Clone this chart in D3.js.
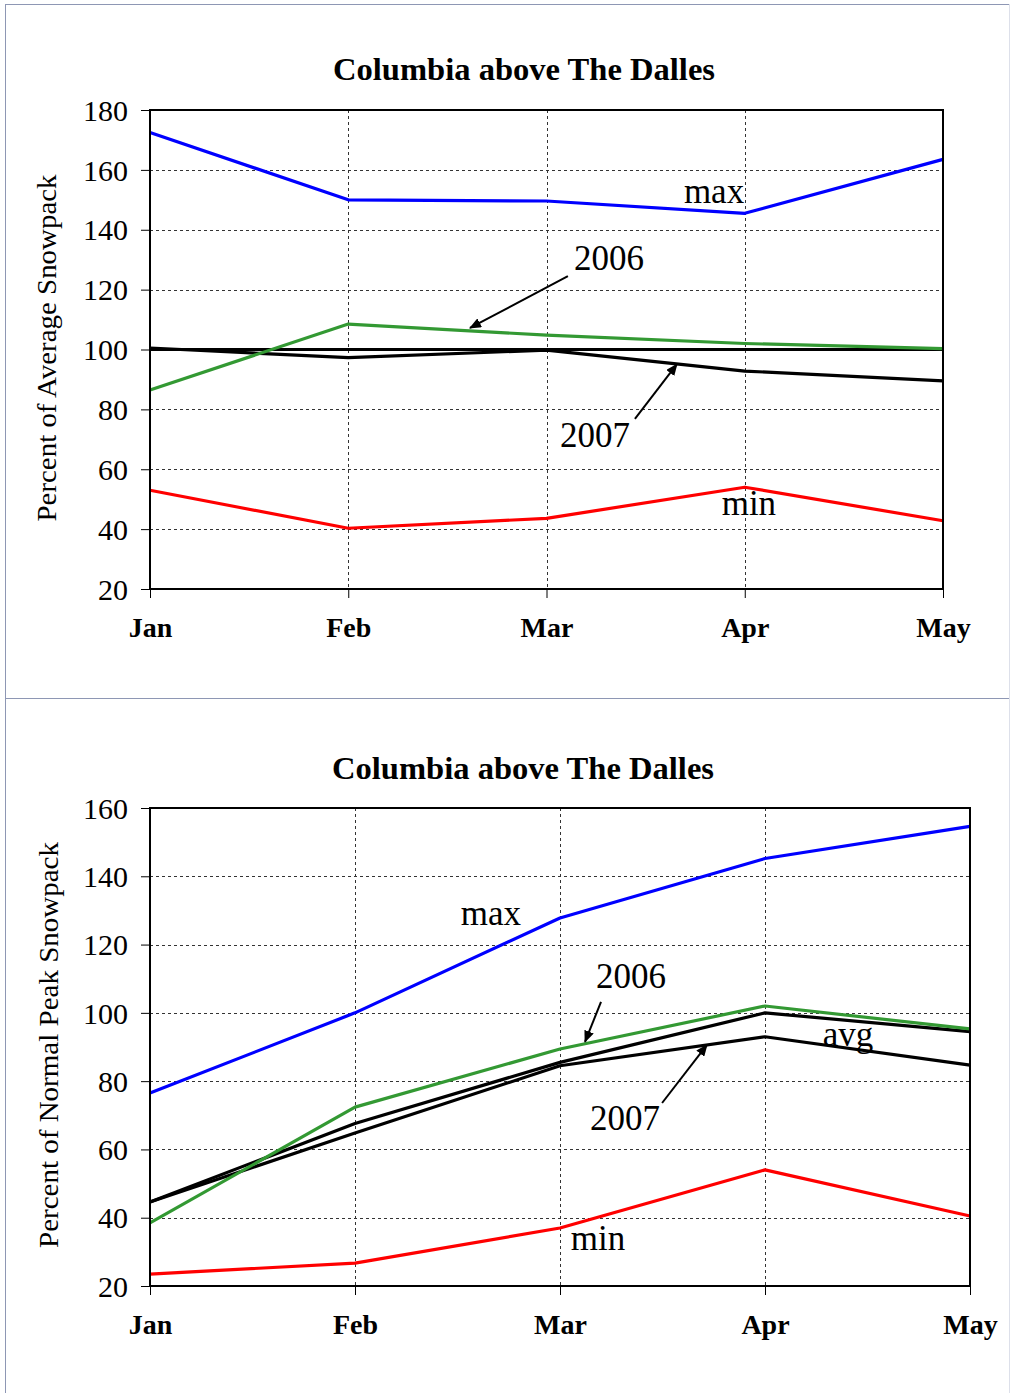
<!DOCTYPE html>
<html><head><meta charset="utf-8">
<script src="https://cdn.jsdelivr.net/npm/d3@7"></script>
<style>body{margin:0;background:#fff}svg{display:block}</style>
</head><body>
<script>
// ---------- DATA ----------
const months = ["Jan","Feb","Mar","Apr","May"];
const chartTitle = "Columbia above The Dalles";

// Top chart: percent of average snowpack
const topTicks = [20,40,60,80,100,120,140,160,180];
const topMax  = [172.5, 150.0, 149.6, 145.5, 163.5];
const topMin  = [53.0, 40.3, 43.6, 54.0, 42.8];
const top2006 = [86.5, 108.5, 104.8, 102.0, 100.3];
const top2007 = [100.5, 97.3, 99.8, 92.8, 89.5];
const topAvg  = [100, 100, 100, 100, 100];
const topYLabel = "Percent of Average Snowpack";
const topLabels = [
  {text:"max",  i:2.845, v:148.9},
  {text:"2006", i:2.315, v:126.5},
  {text:"2007", i:2.245, v:67.4},
  {text:"min",  i:3.021, v:44.7}
];
const topArrows = [
  {i0:2.108, v0:124.5, i1:1.614, v1:107.2},
  {i0:2.446, v0:76.8,  i1:2.658, v1:95.1}
];

// Bottom chart: percent of normal peak snowpack
const botTicks = [20,40,60,80,100,120,140,160];
const botMax  = [76.5, 100.0, 127.8, 145.2, 154.6];
const botMin  = [23.5, 26.7, 37.0, 54.0, 40.5];
const bot2006 = [38.5, 72.4, 89.4, 102.0, 95.3];
const botAvg  = [44.6, 67.6, 85.5, 100.0, 94.5];
const bot2007 = [44.6, 64.8, 84.5, 93.0, 84.7];
const botYLabel = "Percent of Normal Peak Snowpack";
const botLabels = [
  {text:"max",  i:1.663, v:125.7},
  {text:"2006", i:2.346, v:107.3},
  {text:"avg",  i:3.405, v:90.3},
  {text:"2007", i:2.317, v:65.7},
  {text:"min",  i:2.185, v:30.5}
];
const botArrows = [
  {i0:2.200, v0:103.2, i1:2.122, v1:91.5},
  {i0:2.498, v0:73.6,  i1:2.717, v1:90.6}
];

// ---------- DRAW ----------
const W = 1010, H = 1393;
const FONT = "'Liberation Serif','Times New Roman',serif";
const svg = d3.select("body").append("svg").attr("width", W).attr("height", H);

// outer frame
const frameColor = "#8e97b4";
svg.append("line").attr("x1",5).attr("x2",W).attr("y1",4.5).attr("y2",4.5).attr("stroke",frameColor);
svg.append("line").attr("x1",5.5).attr("x2",5.5).attr("y1",4).attr("y2",H).attr("stroke",frameColor);
svg.append("line").attr("x1",5).attr("x2",W).attr("y1",698.5).attr("y2",698.5).attr("stroke",frameColor);
svg.append("line").attr("x1",1009.5).attr("x2",1009.5).attr("y1",4).attr("y2",H).attr("stroke","#dde0ea");

svg.append("defs").append("marker")
  .attr("id","ah").attr("viewBox","0 0 12 10").attr("refX",11).attr("refY",5)
  .attr("markerWidth",12).attr("markerHeight",10).attr("markerUnits","userSpaceOnUse")
  .attr("orient","auto")
  .append("path").attr("d","M0,0 L12,5 L0,10 Z").attr("fill","#000");

function drawChart(cfg) {
  const g = svg.append("g");
  const x = d3.scaleLinear().domain([0, months.length-1]).range([cfg.left, cfg.right]);
  const y = d3.scaleLinear().domain(cfg.domain).range([cfg.bottom, cfg.top]);

  // grid
  g.append("g").selectAll("line").data(cfg.ticks.slice(1,-1)).join("line")
    .attr("x1",cfg.left).attr("x2",cfg.right)
    .attr("y1",d=>Math.round(y(d))+0.5).attr("y2",d=>Math.round(y(d))+0.5)
    .attr("stroke","#333").attr("stroke-width",1).attr("stroke-dasharray","3,3");
  g.append("g").selectAll("line").data(months.slice(1,-1)).join("line")
    .attr("x1",(d,i)=>Math.round(x(i+1))+0.5).attr("x2",(d,i)=>Math.round(x(i+1))+0.5)
    .attr("y1",cfg.top).attr("y2",cfg.bottom)
    .attr("stroke","#333").attr("stroke-width",1).attr("stroke-dasharray","3,3");

  // axes
  const yAxis = d3.axisLeft(y).tickValues(cfg.ticks).tickSize(9).tickPadding(13).tickFormat(d3.format("d"));
  const ya = g.append("g").attr("transform",`translate(${cfg.left},0)`).call(yAxis);
  ya.select(".domain").remove();
  ya.selectAll("line").attr("stroke","#000");
  ya.selectAll("text").attr("font-family",FONT).attr("font-size",30).attr("fill","#000").attr("dy","0.34em");

  const xAxis = d3.axisBottom(x).tickValues(d3.range(months.length)).tickSize(9).tickPadding(19)
    .tickFormat(i=>months[i]);
  const xa = g.append("g").attr("transform",`translate(0,${cfg.bottom})`).call(xAxis);
  xa.select(".domain").remove();
  xa.selectAll("line").attr("stroke","#000");
  xa.selectAll("text").attr("font-family",FONT).attr("font-size",28).attr("fill","#000").attr("font-weight","bold");

  // series
  const line = d3.line().x((d,i)=>x(i)).y(d=>y(d));
  cfg.series.forEach(s=>{
    g.append("path").datum(s.values).attr("d",line).attr("fill","none")
      .attr("stroke",s.color).attr("stroke-width",3.2).attr("stroke-linejoin","round");
  });

  // plot border
  g.append("rect").attr("x",cfg.left).attr("y",cfg.top)
    .attr("width",cfg.right-cfg.left).attr("height",cfg.bottom-cfg.top)
    .attr("fill","none").attr("stroke","#000").attr("stroke-width",2);

  // title
  g.append("text").attr("x",cfg.titleX).attr("y",cfg.titleY).attr("text-anchor","middle")
    .attr("font-family",FONT).attr("font-size",32).attr("font-weight","bold")
    .attr("textLength",cfg.titleLen).attr("lengthAdjust","spacingAndGlyphs").text(chartTitle);

  // y label
  g.append("text").attr("transform",`translate(${cfg.yLabelX},${cfg.yLabelY}) rotate(-90)`)
    .attr("text-anchor","middle").attr("font-family",FONT).attr("font-size",28)
    .attr("textLength",cfg.yLabelLen).attr("lengthAdjust","spacingAndGlyphs").text(cfg.yLabel);

  // annotations
  cfg.labels.forEach(l=>{
    g.append("text").attr("x",x(l.i)).attr("y",y(l.v)).attr("text-anchor","middle")
      .attr("font-family",FONT).attr("font-size",35).text(l.text);
  });
  cfg.arrows.forEach(a=>{
    g.append("line").attr("x1",x(a.i0)).attr("y1",y(a.v0)).attr("x2",x(a.i1)).attr("y2",y(a.v1))
      .attr("stroke","#000").attr("stroke-width",2).attr("marker-end","url(#ah)");
  });
}

drawChart({
  left:150, right:943, top:110, bottom:589, domain:[20,180], ticks:topTicks,
  series:[
    {values:topAvg, color:"#000"},
    {values:top2007, color:"#000"},
    {values:top2006, color:"#339933"},
    {values:topMax, color:"#0000ff"},
    {values:topMin, color:"#ff0000"}
  ],
  titleX:524, titleY:80, titleLen:382, yLabel:topYLabel, yLabelX:56, yLabelY:348, yLabelLen:347,
  labels:topLabels, arrows:topArrows
});

drawChart({
  left:150, right:970, top:808, bottom:1286, domain:[20,160], ticks:botTicks,
  series:[
    {values:botAvg, color:"#000"},
    {values:bot2007, color:"#000"},
    {values:bot2006, color:"#339933"},
    {values:botMax, color:"#0000ff"},
    {values:botMin, color:"#ff0000"}
  ],
  titleX:523, titleY:779, titleLen:382, yLabel:botYLabel, yLabelX:58, yLabelY:1045, yLabelLen:406,
  labels:botLabels, arrows:botArrows
});
</script>
</body></html>
